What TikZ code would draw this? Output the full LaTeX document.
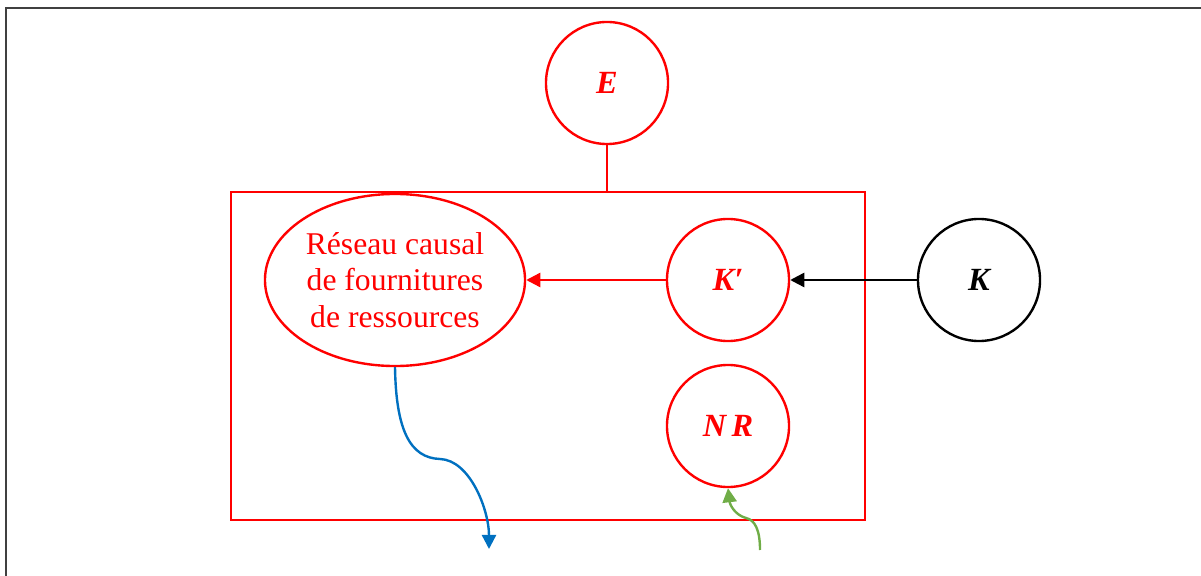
\documentclass[tikz,border=0pt]{standalone}
\usepackage{fontspec}
\setmainfont{Liberation Serif}
\usetikzlibrary{arrows.meta,shapes.geometric}

\definecolor{rouge}{RGB}{255,0,0}
\definecolor{bleu}{RGB}{0,112,192}
\definecolor{vert}{RGB}{112,173,71}

\tikzset{
    var/.style={circle, draw, line width=1.7pt, minimum size=3.05cm, inner sep=0pt,
        font=\fontsize{23}{27}\selectfont\bfseries\itshape},
    fleche/.style={line width=1.7pt, -{Triangle[length=10pt,width=10pt]}}
}

\begin{document}
\begin{tikzpicture}[x=0.025cm, y=-0.025cm]

        % Cadre
        \useasboundingbox (0,0) rectangle (1201,576);
        \draw[black!75, line width=1.5pt] (6,576) -- (6,8) -- (1201,8);

        % Boite
        \draw[rouge, line width=1.7pt] (231,192) rectangle (865,520);
        \coordinate (haut) at (607,192);

        % Variables
        \node[var, rouge] (E) at (607,83) {E};
        \node[var, rouge] (Kp) at (728,280) {K′};
        \node[var, rouge] (NR) at (728,426) {N\,R};
        \node[var, black] (K) at (979,280) {K};
        \node[ellipse, draw, rouge, line width=1.7pt, minimum width=6.5cm, minimum height=4.3cm,
            inner sep=0pt, align=center, text=rouge, font=\fontsize{22.5}{26}\selectfont] (R) at (395,280)
            {Réseau causal\\de fournitures\\de ressources};

        % Liens
        \draw[rouge, line width=1.7pt] (E) -- (haut);
        \draw[fleche, rouge] (Kp) -- (R);
        \draw[fleche, black] (K.west) -- (Kp.east);

        % Entree et sortie
        \coordinate (sortie) at (489,549);
        \coordinate (entree) at (760,550);
        \draw[fleche, bleu] (R.south) .. controls (396,430) and (410,458) .. (440,459)
            .. controls (470,460) and (489,510) .. (sortie);
        \draw[fleche, vert] (entree) .. controls (760,530) and (755,520) .. (746,518)
            .. controls (735,515) and (730,505) .. (NR.south);

\end{tikzpicture}
\end{document}
